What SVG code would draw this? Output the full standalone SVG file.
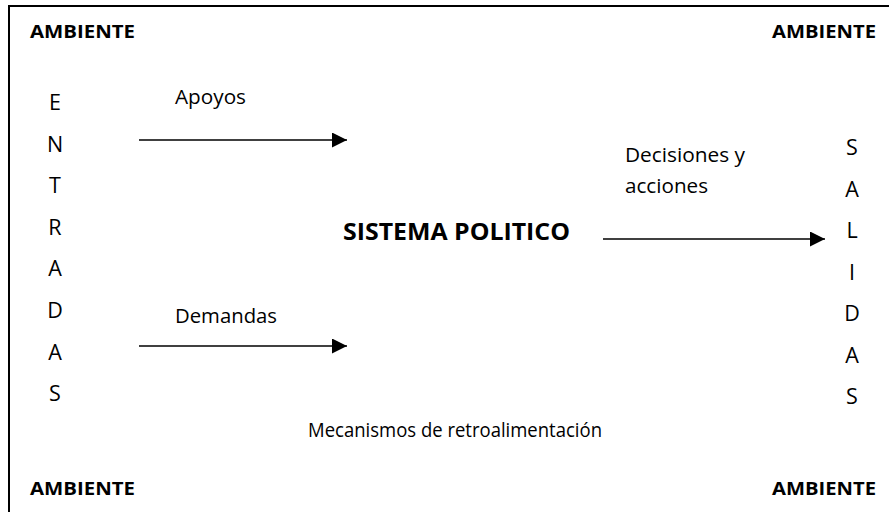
<svg xmlns="http://www.w3.org/2000/svg" width="889" height="512" viewBox="0 0 889 512">
<defs>
<marker id="ah" markerWidth="15" markerHeight="15" viewBox="0 0 15 15" refX="15" refY="7.5" markerUnits="userSpaceOnUse" orient="auto">
<path d="M0,0 L15,7.5 L0,15 Z" fill="#000"/>
</marker>
<style>
.t{font-family:"Open Sans","Liberation Sans",sans-serif;fill:#000;font-size:19.5px}
.b{font-family:"Open Sans","Liberation Sans",sans-serif;fill:#000;font-weight:bold}
.amb{font-size:18px}
.col{font-family:"Open Sans","Liberation Sans",sans-serif;fill:#000;font-size:21.5px;text-anchor:middle}
.c{stroke:#000;stroke-width:1.6;fill:none}
</style>
</defs>
<rect width="889" height="512" fill="#fff"/>
<path d="M9,512 V6 H889" fill="none" stroke="#000" stroke-width="2"/>
<g id="ambiente">
<text class="b amb" x="30" y="38" textLength="105" lengthAdjust="spacingAndGlyphs">AMBIENTE</text>
<text class="b amb" x="772" y="38" textLength="104" lengthAdjust="spacingAndGlyphs">AMBIENTE</text>
<text class="b amb" x="30" y="495" textLength="105" lengthAdjust="spacingAndGlyphs">AMBIENTE</text>
<text class="b amb" x="772" y="495" textLength="104" lengthAdjust="spacingAndGlyphs">AMBIENTE</text>
</g>
<g id="entradas">
<text class="col" x="55" y="110">E</text>
<text class="col" x="55" y="151.6">N</text>
<text class="col" x="55" y="193.2">T</text>
<text class="col" x="55" y="234.8">R</text>
<text class="col" x="55" y="276.4">A</text>
<text class="col" x="55" y="318">D</text>
<text class="col" x="55" y="359.6">A</text>
<text class="col" x="55" y="401.2">S</text>
</g>
<g id="salidas">
<text class="col" x="852" y="155">S</text>
<text class="col" x="852" y="196.5">A</text>
<text class="col" x="852" y="238">L</text>
<text class="col" x="852" y="279.5">I</text>
<text class="col" x="852" y="321">D</text>
<text class="col" x="852" y="362.5">A</text>
<text class="col" x="852" y="404">S</text>
</g>
<g id="sistema">
<text class="b" x="343" y="240" font-size="23.5" textLength="227" lengthAdjust="spacingAndGlyphs">SISTEMA POLITICO</text>
</g>
<g id="labels">
<text class="t" x="175" y="104" textLength="71" lengthAdjust="spacingAndGlyphs">Apoyos</text>
<text class="t" x="175" y="323" textLength="102" lengthAdjust="spacingAndGlyphs">Demandas</text>
<text class="t" x="625" y="162" textLength="120" lengthAdjust="spacingAndGlyphs">Decisiones y</text>
<text class="t" x="625" y="193" textLength="83" lengthAdjust="spacingAndGlyphs">acciones</text>
<text class="t" x="308" y="437" font-size="16.5" textLength="294" lengthAdjust="spacingAndGlyphs">Mecanismos de retroalimentación</text>
</g>
<g id="connectors">
<line class="c" x1="139" y1="140" x2="347" y2="140" marker-end="url(#ah)"/>
<line class="c" x1="139" y1="346" x2="347" y2="346" marker-end="url(#ah)"/>
<line class="c" x1="603" y1="239" x2="825" y2="239" marker-end="url(#ah)"/>
</g>
</svg>
